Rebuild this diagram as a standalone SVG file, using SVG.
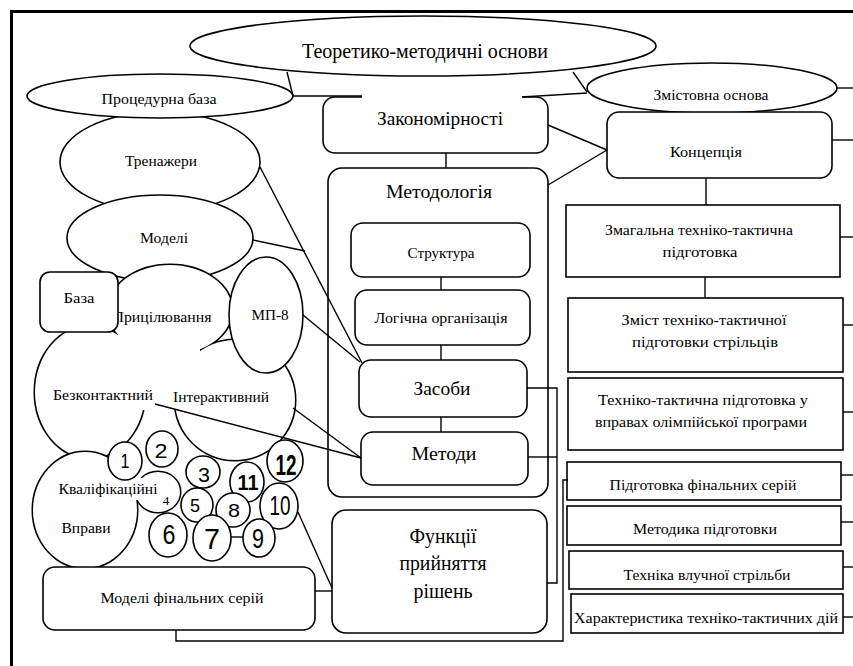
<svg xmlns="http://www.w3.org/2000/svg" xmlns:xlink="http://www.w3.org/1999/xlink" width="853" height="666" viewBox="0 0 853 666" font-family="'Liberation Serif','Times New Roman',serif">
<style>
.s{fill:#fff;stroke:#000;stroke-width:1.6}
.c{fill:none;stroke:#000;stroke-width:1.4}
.uo use{fill:none;stroke:#000;stroke-width:3}
.uf use{fill:#fff;stroke:none}
text{font-family:'Liberation Serif','Times New Roman',serif;fill:#000;text-anchor:middle;font-size:15px}
.m{font-size:19px}
.n{font-family:'Liberation Sans',Arial,sans-serif}
.b{font-weight:bold}
</style>
<defs>
<ellipse id="e-pryc" cx="170" cy="310" rx="62" ry="45"/>
<ellipse id="e-bezk" cx="90" cy="392" rx="55" ry="66"/>
<ellipse id="e-inter" cx="235" cy="400" rx="60" ry="60"/>
<polygon id="e-link" points="120,300 150,300 200,330 200,372 195,410 140,410 136,362 128,348 118,338"/>
<ellipse id="e-kval" cx="85" cy="510" rx="52" ry="58"/>
<ellipse id="e-four" cx="158" cy="492" rx="22" ry="20"/>
<rect id="e-kfill" x="125" y="478" width="25" height="22"/>
</defs>
<rect width="853" height="666" fill="#fff"/>
<path d="M11.5,666 V11.5 H853" fill="none" stroke="#000" stroke-width="3"/>

<g id="node-teoretyko">
<ellipse class="s" cx="423" cy="46" rx="233" ry="30"/>
<text x="425" y="58" style="font-size:22px" textLength="246" lengthAdjust="spacingAndGlyphs">Теоретико-методичні основи</text>
</g>
<g id="node-trenazhery">
<ellipse class="s" cx="160" cy="162" rx="100" ry="50"/>
<text x="161" y="166" textLength="72" lengthAdjust="spacingAndGlyphs">Тренажери</text>
</g>
<g id="node-modeli">
<ellipse class="s" cx="160" cy="238" rx="93" ry="43"/>
<text x="164" y="243" textLength="48" lengthAdjust="spacingAndGlyphs">Моделі</text>
</g>
<g id="node-procedurna">
<ellipse class="s" cx="160" cy="96" rx="133" ry="22"/>
<text x="159" y="104" textLength="115" lengthAdjust="spacingAndGlyphs">Процедурна база</text>
</g>
<g id="node-zmistovna">
<ellipse class="s" cx="712" cy="88" rx="125" ry="25"/>
<text x="711" y="100" textLength="115" lengthAdjust="spacingAndGlyphs">Змістовна основа</text>
</g>

<g id="cloud-shape">
<g class="uo"><use xlink:href="#e-pryc"/><use xlink:href="#e-bezk"/><use xlink:href="#e-inter"/></g>
<g class="uf"><use xlink:href="#e-pryc"/><use xlink:href="#e-bezk"/><use xlink:href="#e-inter"/><use xlink:href="#e-link"/></g>
</g>
<g id="node-pryciliuvannia">
<text x="162" y="322" textLength="99" lengthAdjust="spacingAndGlyphs">Прицілювання</text>
</g>
<g id="node-bezkontaktnyi">
<text x="103" y="400" textLength="100" lengthAdjust="spacingAndGlyphs">Безконтактний</text>
</g>
<g id="node-interaktyvnyi">
<text x="221" y="402" textLength="96" lengthAdjust="spacingAndGlyphs">Інтерактивний</text>
</g>
<g id="node-baza">
<rect class="s" x="40" y="272" width="78" height="60" rx="10"/>
<text x="79" y="303" textLength="31" lengthAdjust="spacingAndGlyphs">База</text>
</g>
<g id="node-mp8">
<ellipse class="s" cx="266" cy="315" rx="37" ry="58"/>
<text x="270" y="320" textLength="37" lengthAdjust="spacingAndGlyphs">МП-8</text>
</g>

<g id="node-kvalifikatsiini">
<g class="uo"><use xlink:href="#e-kval"/><use xlink:href="#e-four"/></g>
<g class="uf"><use xlink:href="#e-kval"/><use xlink:href="#e-four"/><use xlink:href="#e-kfill"/></g>
<text x="166" y="505" style="font-size:13px">4</text>
</g>
<g id="node-1"><ellipse class="s" cx="125" cy="461" rx="17" ry="19"/><text class="n" x="125" y="468" style="font-size:20px" textLength="9" lengthAdjust="spacingAndGlyphs">1</text></g>
<g id="node-2"><ellipse class="s" cx="162" cy="449" rx="16" ry="18"/><text class="n" x="161" y="458" style="font-size:20px" textLength="13" lengthAdjust="spacingAndGlyphs">2</text></g>
<g id="node-3"><ellipse class="s" cx="203" cy="472" rx="17" ry="16"/><text class="n" x="204" y="482" style="font-size:21px" textLength="12" lengthAdjust="spacingAndGlyphs">3</text></g>
<g id="node-5"><ellipse class="s" cx="197" cy="505" rx="16" ry="17"/><text class="n" x="195" y="512" style="font-size:19px" textLength="10" lengthAdjust="spacingAndGlyphs">5</text></g>
<g id="node-11"><ellipse class="s" cx="247" cy="482" rx="17" ry="20"/><text class="n b" x="248" y="490" style="font-size:22px" textLength="21" lengthAdjust="spacingAndGlyphs">11</text></g>
<g id="node-12"><ellipse class="s" cx="285" cy="461" rx="18" ry="21"/><text class="n b" x="286" y="475" style="font-size:29px" textLength="21" lengthAdjust="spacingAndGlyphs">12</text></g>
<g id="node-8"><ellipse class="s" cx="233" cy="510" rx="17" ry="17"/><text class="n" x="234" y="517" style="font-size:19px" textLength="12" lengthAdjust="spacingAndGlyphs">8</text></g>
<g id="node-10"><ellipse class="s" cx="279" cy="506" rx="19" ry="23"/><text class="n" x="280" y="515" style="font-size:28px" textLength="21" lengthAdjust="spacingAndGlyphs">10</text></g>
<g id="node-6"><ellipse class="s" cx="168" cy="535" rx="19" ry="22"/><text class="n" x="169" y="544" style="font-size:28px" textLength="13" lengthAdjust="spacingAndGlyphs">6</text></g>
<g id="node-7"><ellipse class="s" cx="212" cy="538" rx="19" ry="23"/><text class="n" x="212" y="549" style="font-size:29px" textLength="16" lengthAdjust="spacingAndGlyphs">7</text></g>
<g id="node-9"><ellipse class="s" cx="259" cy="538" rx="16" ry="19"/><text class="n" x="258" y="548" style="font-size:27px" textLength="12" lengthAdjust="spacingAndGlyphs">9</text></g>
<g id="node-kval-text">
<text x="108" y="494" textLength="99" lengthAdjust="spacingAndGlyphs">Кваліфікаційні</text>
<text x="86" y="533" textLength="49" lengthAdjust="spacingAndGlyphs">Вправи</text>
</g>

<g id="node-zakonomirnosti">
<path class="s" d="M362,97 H335 A12,12 0 0 0 323,109 V141 A12,12 0 0 0 335,153 H536 A12,12 0 0 0 548,141 V109 A12,12 0 0 0 536,97 H522"/>
<text class="m" x="440" y="125" textLength="126" lengthAdjust="spacingAndGlyphs">Закономірності</text>
</g>
<g id="node-kontseptsiia">
<rect class="s" x="607" y="112" width="225" height="66" rx="12"/>
<text x="706" y="157" textLength="72" lengthAdjust="spacingAndGlyphs">Концепція</text>
</g>
<g id="node-metodolohiia">
<rect class="s" x="328" y="168" width="220" height="329" rx="14"/>
<text class="m" x="439" y="198" textLength="106" lengthAdjust="spacingAndGlyphs">Методологія</text>
</g>
<g id="node-struktura">
<rect class="s" x="351" y="223" width="179" height="54" rx="12"/>
<text x="441" y="258" textLength="67" lengthAdjust="spacingAndGlyphs">Структура</text>
</g>
<g id="node-lohichna">
<rect class="s" x="355" y="290" width="175" height="55" rx="12"/>
<text x="441" y="323" textLength="133" lengthAdjust="spacingAndGlyphs">Логічна організація</text>
</g>
<g id="node-zasoby">
<rect class="s" x="359" y="360" width="168" height="57" rx="12"/>
<text class="m" x="442" y="395" textLength="57" lengthAdjust="spacingAndGlyphs">Засоби</text>
</g>
<g id="node-metody">
<rect class="s" x="361" y="432" width="167" height="53" rx="12"/>
<text class="m" x="444" y="460" textLength="65" lengthAdjust="spacingAndGlyphs">Методи</text>
</g>
<g id="node-funktsii">
<rect class="s" x="332" y="510" width="215" height="123" rx="14"/>
<text x="443" y="543" style="font-size:20px" textLength="67" lengthAdjust="spacingAndGlyphs">Функції</text>
<text x="443" y="570" style="font-size:20px" textLength="87" lengthAdjust="spacingAndGlyphs">прийняття</text>
<text x="443" y="598" style="font-size:20px" textLength="59" lengthAdjust="spacingAndGlyphs">рішень</text>
</g>
<g id="node-modeli-finalnykh">
<rect class="s" x="43" y="567" width="272" height="63" rx="12"/>
<text x="182" y="603" textLength="163" lengthAdjust="spacingAndGlyphs">Моделі фінальних серій</text>
</g>

<g id="node-zmahalna">
<rect class="s" x="566" y="205" width="274" height="72"/>
<text x="699" y="235" textLength="188" lengthAdjust="spacingAndGlyphs">Змагальна техніко-тактична</text>
<text x="700" y="257" textLength="75" lengthAdjust="spacingAndGlyphs">підготовка</text>
</g>
<g id="node-zmist">
<rect class="s" x="568" y="298" width="275" height="74"/>
<text x="704" y="325" textLength="165" lengthAdjust="spacingAndGlyphs">Зміст техніко-тактичної</text>
<text x="705" y="347" textLength="146" lengthAdjust="spacingAndGlyphs">підготовки стрільців</text>
</g>
<g id="node-olimpiiska">
<rect class="s" x="568" y="378" width="275" height="72"/>
<text x="703" y="405" textLength="210" lengthAdjust="spacingAndGlyphs">Техніко-тактична підготовка у</text>
<text x="701" y="427" textLength="212" lengthAdjust="spacingAndGlyphs">вправах олімпійської програми</text>
</g>
<g id="node-pidhotovka-finalnykh">
<rect class="s" x="567" y="462" width="274" height="38"/>
<text x="703" y="490" textLength="187" lengthAdjust="spacingAndGlyphs">Підготовка фінальних серій</text>
</g>
<g id="node-metodyka">
<rect class="s" x="567" y="506" width="274" height="39"/>
<text x="705" y="534" textLength="144" lengthAdjust="spacingAndGlyphs">Методика підготовки</text>
</g>
<g id="node-tekhnika">
<rect class="s" x="569" y="551" width="274" height="38"/>
<text x="707" y="580" textLength="167" lengthAdjust="spacingAndGlyphs">Техніка влучної стрільби</text>
</g>
<g id="node-kharakterystyka">
<rect class="s" x="571" y="594" width="272" height="39"/>
<text x="706" y="623" textLength="264" lengthAdjust="spacingAndGlyphs">Характеристика техніко-тактичних дій</text>
</g>

<g id="connectors" class="c">
<path d="M287,72 L293,96"/>
<path d="M573,72 L587,92"/>
<path d="M293,96 H362"/>
<path d="M522,97 L587,93"/>
<path d="M837,88 H853"/>
<path d="M832,140 H853"/>
<path d="M548,125 L607,150"/>
<path d="M548,185 L607,150"/>
<path d="M446,153 V168"/>
<path d="M441,277 V290"/>
<path d="M441,345 V360"/>
<path d="M441,417 V432"/>
<path d="M706,178 V205"/>
<path d="M705,277 V298"/>
<path d="M840,237 H853"/>
<path d="M843,325 H853"/>
<path d="M843,412 H853"/>
<path d="M841,475 H853"/>
<path d="M841,522 H853"/>
<path d="M843,567 H853"/>
<path d="M843,617 H853"/>
<path d="M527,388 H557 V583 H547"/>
<path d="M528,457 H557"/>
<path d="M176,630 V641 H563 V480 H568"/>
<path d="M315,591 H332"/>
<path d="M260,167 L362,363"/>
<path d="M253,240 L305,251"/>
<path d="M303,315 L360,362"/>
<path d="M155,404 L361,458"/>
<path d="M293,408 L361,458"/>
<path d="M298,512 L332,588"/>
<path d="M231,537 H243"/>
</g>
</svg>
